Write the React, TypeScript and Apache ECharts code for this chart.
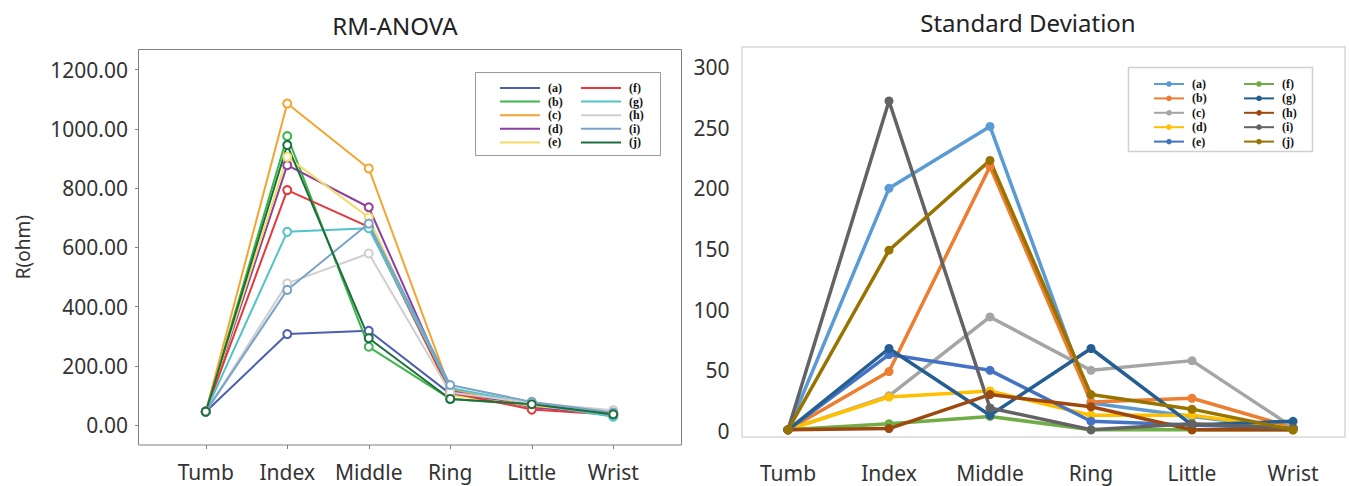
import React, { useEffect, useRef } from 'react';
import * as echarts from 'echarts';

const categories = ['Tumb', 'Index', 'Middle', 'Ring', 'Little', 'Wrist'];
const seriesNames = ['(a)', '(b)', '(c)', '(d)', '(e)', '(f)', '(g)', '(h)', '(i)', '(j)'];

// RM-ANOVA, R(ohm)
const anovaA = [45, 307, 318, 105, 70, 35];
const anovaB = [45, 975, 264, 88, 68, 30];
const anovaC = [45, 1085, 866, 120, 62, 38];
const anovaD = [45, 877, 735, 115, 60, 36];
const anovaE = [45, 905, 701, 100, 65, 40];
const anovaF = [45, 793, 669, 110, 52, 35];
const anovaG = [45, 652, 664, 125, 72, 28];
const anovaH = [45, 478, 579, 110, 75, 50];
const anovaI = [45, 456, 680, 135, 78, 42];
const anovaJ = [45, 945, 293, 88, 70, 36];

// Standard deviation
const sdA = [1, 200, 251, 23, 12, 2];
const sdB = [1, 49, 218, 24, 27, 3];
const sdC = [1, 29, 94, 50, 58, 3];
const sdD = [1, 28, 33, 13, 13, 2];
const sdE = [1, 63, 50, 8, 5, 2];
const sdF = [1, 6, 12, 1, 1, 1];
const sdG = [1, 68, 13, 68, 5, 8];
const sdH = [1, 2, 30, 20, 1, 1];
const sdI = [1, 272, 19, 1, 6, 2];
const sdJ = [1, 149, 223, 30, 18, 1];

const anovaTicks = [0, 200, 400, 600, 800, 1000, 1200];
const sdTicks = [0, 50, 100, 150, 200, 250, 300];

const anovaData = [anovaA, anovaB, anovaC, anovaD, anovaE, anovaF, anovaG, anovaH, anovaI, anovaJ];
const sdData = [sdA, sdB, sdC, sdD, sdE, sdF, sdG, sdH, sdI, sdJ];

const anovaColors = ['#4b5fae', '#3cb54a', '#f2a530', '#8e3f9e', '#f2dc6a', '#e2393b', '#52c4c6', '#cfcfcf', '#7aa3c9', '#1d6e3c'];
const sdColors = ['#5b9bd5', '#ed7d31', '#a5a5a5', '#ffc000', '#4472c4', '#70ad47', '#255e91', '#9e480e', '#636363', '#997300'];

const FONT = 'Noto Sans';
const legendText = { fontFamily: 'Liberation Serif', fontWeight: 'bold' as const, fontSize: 12, color: '#111', lineHeight: 12, padding: [0, 0, 0, 3] };

function leftOption(): any {
  return {
    animation: false,
    graphic: [
      { type: 'text', x: 395, y: 25, style: { text: 'RM-ANOVA', fontFamily: FONT, fontSize: 24, fill: '#222', textAlign: 'center', textVerticalAlign: 'middle' } },
      { type: 'rect', shape: { x: 138.5, y: 49.5, width: 543, height: 395.5 }, style: { fill: 'none', stroke: '#808080', lineWidth: 1 }, silent: true },
      { type: 'rect', shape: { x: 475.5, y: 72.5, width: 185, height: 83 }, style: { fill: '#fff', stroke: '#9a9a9a', lineWidth: 1 }, silent: true, z: 5 },
    ],
    grid: [
      { left: 165, top: 69.5, width: 489, height: 355.5 },
      { left: 165, top: 69.5, width: 489, height: 375.5 },
    ],
    legend: [
      { data: seriesNames.slice(0, 5), orient: 'vertical', left: 495, top: 77, itemWidth: 40, itemHeight: 2, itemGap: 1.6, icon: 'rect', selectedMode: false, textStyle: legendText, z: 10 },
      { data: seriesNames.slice(5), orient: 'vertical', left: 576, top: 77, itemWidth: 40, itemHeight: 2, itemGap: 1.6, icon: 'rect', selectedMode: false, textStyle: legendText, z: 10 },
    ],
    xAxis: [
      {
        type: 'category', data: categories, boundaryGap: true, gridIndex: 0,
        axisLine: { show: false }, axisTick: { show: false }, axisLabel: { show: false }, splitLine: { show: false },
      },
      {
        type: 'category', data: categories, boundaryGap: true, gridIndex: 1,
        axisLine: { show: false },
        axisTick: { show: true, alignWithLabel: true, interval: 0, length: 4, lineStyle: { color: '#808080' } },
        axisLabel: { fontFamily: FONT, fontSize: 21, color: '#333', margin: 16, interval: 0 },
        splitLine: { show: false },
      },
    ],
    yAxis: [
      {
        type: 'value', gridIndex: 0, min: anovaTicks[0], max: anovaTicks[anovaTicks.length - 1], interval: anovaTicks[1] - anovaTicks[0], offset: 27,
        axisLine: { show: false },
        axisTick: { show: true, length: 3, lineStyle: { color: '#808080' } },
        splitLine: { show: false },
        axisLabel: { formatter: (v: number) => v.toFixed(2), fontFamily: FONT, fontSize: 21, color: '#333', margin: 10, padding: [7, 0, 0, 0] },
        name: 'R(ohm)', nameLocation: 'middle', nameGap: 106, nameRotate: 90,
        nameTextStyle: { fontFamily: FONT, fontSize: 19, color: '#333' },
      },
      { type: 'value', gridIndex: 1, show: false },
    ],
    series: seriesNames.map((n, k) => ({
      name: n, type: 'line', data: anovaData[k], symbol: 'emptyCircle', symbolSize: 8,
      xAxisIndex: 0, yAxisIndex: 0,
      lineStyle: { width: 2, color: anovaColors[k] },
      itemStyle: { color: anovaColors[k], borderWidth: 1.5 },
      emphasis: { disabled: true }, z: 2,
    })),
  };
}

function rightOption(): any {
  return {
    animation: false,
    graphic: [
      { type: 'text', x: 342, y: 22, style: { text: 'Standard Deviation', fontFamily: FONT, fontSize: 24, fill: '#222', textAlign: 'center', textVerticalAlign: 'middle' } },
      { type: 'rect', shape: { x: 56, y: 47, width: 603, height: 390 }, style: { fill: 'none', stroke: '#d9d9d9', lineWidth: 1.5 }, silent: true },
      { type: 'rect', shape: { x: 442.5, y: 67.5, width: 184, height: 84 }, style: { fill: '#fff', stroke: '#d0d0d0', lineWidth: 1.5 }, silent: true, z: 5 },
    ],
    grid: { left: 51.5, top: 67, width: 606, height: 364 },
    legend: [
      { data: seriesNames.slice(0, 5), orient: 'vertical', left: 462, top: 73, itemWidth: 30, itemHeight: 7, itemGap: 2.4, selectedMode: false, textStyle: legendText, z: 10 },
      { data: seriesNames.slice(5), orient: 'vertical', left: 552, top: 73, itemWidth: 30, itemHeight: 7, itemGap: 2.4, selectedMode: false, textStyle: legendText, z: 10 },
    ],
    xAxis: {
      type: 'category', data: categories, boundaryGap: true,
      axisLine: { show: false },
      axisTick: { show: false },
      axisLabel: { fontFamily: FONT, fontSize: 21, color: '#333', margin: 31, interval: 0 },
      splitLine: { show: false },
    },
    yAxis: {
      type: 'value', min: sdTicks[0], max: sdTicks[sdTicks.length - 1], interval: sdTicks[1] - sdTicks[0],
      axisLine: { show: false },
      axisTick: { show: false },
      splitLine: { show: false },
      axisLabel: { fontFamily: FONT, fontSize: 21, color: '#333', margin: 8 },
    },
    series: seriesNames.map((n, k) => ({
      name: n, type: 'line', data: sdData[k], symbol: 'circle', symbolSize: 9,
      lineStyle: { width: 3.5, color: sdColors[k] },
      itemStyle: { color: sdColors[k] },
      emphasis: { disabled: true }, z: 2,
    })),
  };
}

export default function App() {
  const leftRef = useRef<HTMLDivElement>(null);
  const rightRef = useRef<HTMLDivElement>(null);
  useEffect(() => {
    const l = echarts.init(leftRef.current as HTMLDivElement, null, { renderer: 'svg' });
    l.setOption(leftOption());
    const r = echarts.init(rightRef.current as HTMLDivElement, null, { renderer: 'svg' });
    r.setOption(rightOption());
    return () => {
      l.dispose();
      r.dispose();
    };
  }, []);
  return (
    <div style={{ position: 'absolute', left: 0, top: 0, width: 1349, height: 486, background: '#fff' }}>
      <div ref={leftRef} style={{ position: 'absolute', left: 0, top: 0, width: 686, height: 486 }} />
      <div ref={rightRef} style={{ position: 'absolute', left: 686, top: 0, width: 663, height: 486 }} />
    </div>
  );
}
